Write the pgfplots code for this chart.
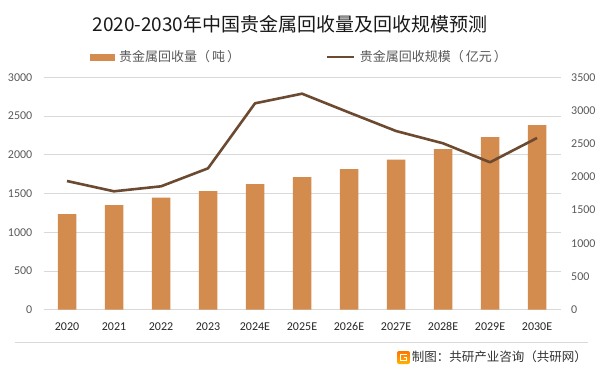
\documentclass[border=0pt]{standalone}
\usepackage{pgfplots}
\pgfplotsset{compat=1.18}
\usepackage{fontspec}
\setmainfont{Carlito}
\newfontfamily\cjk{Noto Sans CJK SC}
\definecolor{barc}{HTML}{D38B4E}
\definecolor{linec}{HTML}{6B4A31}
\definecolor{gridc}{HTML}{D9D9D9}
\definecolor{tickc}{HTML}{595959}
\begin{document}
\begin{tikzpicture}[x=1bp,y=1bp]
\useasboundingbox (0,0) rectangle (602,376);
\begin{axis}[
  at={(43.5bp,66.3bp)}, anchor=south west, scale only axis,
  width=517bp, height=232.4bp,
  xmin=-0.5, xmax=10.5, ymin=0, ymax=3000,
  ytick={0,500,...,3000},
  xtick={0,...,10},
  xticklabels={2020,2021,2022,2023,2024E,2025E,2026E,2027E,2028E,2029E,2030E},
  axis line style={draw=none},
  ymajorgrids, grid style={gridc, line width=0.9bp},
  major tick length=0pt,
  /pgf/number format/1000 sep={},
  /pgf/number format/assume math mode=true,
  tick label style={font=\fontsize{12bp}{14bp}\selectfont, text=tickc, inner sep=0pt},
  xticklabel style={text=black!85},
  yticklabel shift=11bp,
  xticklabel shift=12.5bp,
  legend style={at={(0.0899,1.0873)}, anchor=west, draw=none, fill=none,
    font=\cjk\fontsize{13bp}{15bp}\selectfont, text=tickc,
    /tikz/every odd column/.append style={column sep=2bp},
    /tikz/every even column/.append style={column sep=84bp},
    inner sep=0pt},
  legend columns=2,
  legend cell align=left,
]
\addplot[ybar, bar width=18.5bp, fill=barc, draw=none,
  legend image code/.code={\fill[barc] (0bp,-3.5bp) rectangle (25bp,3.5bp);}]
  coordinates {(0,1235) (1,1351) (2,1446) (3,1532) (4,1622) (5,1713) (6,1816) (7,1936) (8,2074) (9,2229) (10,2384)};
\addlegendentry{贵金属回收量（\hspace{2bp}吨\hspace{2bp}）}
\addlegendimage{legend image code/.code={\draw[linec,line width=2.6bp] (0bp,0bp) -- (27bp,0bp);}}
\addlegendentry{贵金属回收规模（\hspace{2bp}亿元\hspace{2bp}）}
\end{axis}
\begin{axis}[
  at={(43.5bp,66.3bp)}, anchor=south west, scale only axis,
  width=517bp, height=232.4bp,
  xmin=-0.5, xmax=10.5, ymin=0, ymax=3500,
  ytick={0,500,...,3500},
  axis y line*=right, axis x line=none,
  axis line style={draw=none},
  major tick length=0pt,
  /pgf/number format/1000 sep={},
  /pgf/number format/assume math mode=true,
  tick label style={font=\fontsize{12bp}{14bp}\selectfont, text=tickc, inner sep=0pt},
  yticklabel shift=10.5bp,
]
\addplot[linec, line width=2.6bp, no markers, line join=round]
  coordinates {(0,1938) (1,1783) (2,1858) (3,2129) (4,3108) (5,3253) (6,2970) (7,2691) (8,2506) (9,2220) (10,2586)};
\end{axis}
\node[font=\cjk\fontsize{19bp}{21bp}\selectfont, text=black!90] at (290,352) {2020-2030年中国贵金属回收量及回收规模预测};
\draw[gridc, line width=0.8bp] (15,34) -- (588,34);
\shade[top color=orange!90!red, bottom color=orange!60!yellow, rounded corners=2bp] (397,12) rectangle (410,25);
\draw[white, line width=1.6bp] (406.5,21.5) -- (400.5,21.5) -- (400.5,15.5) -- (406.5,15.5) -- (406.5,18.5) -- (403.5,18.5);
\node[anchor=east, font=\cjk\fontsize{12.5bp}{15bp}\selectfont, text=black!80, inner sep=0pt] at (587,19) {制图：共研产业咨询（共研网）};
\end{tikzpicture}
\end{document}
